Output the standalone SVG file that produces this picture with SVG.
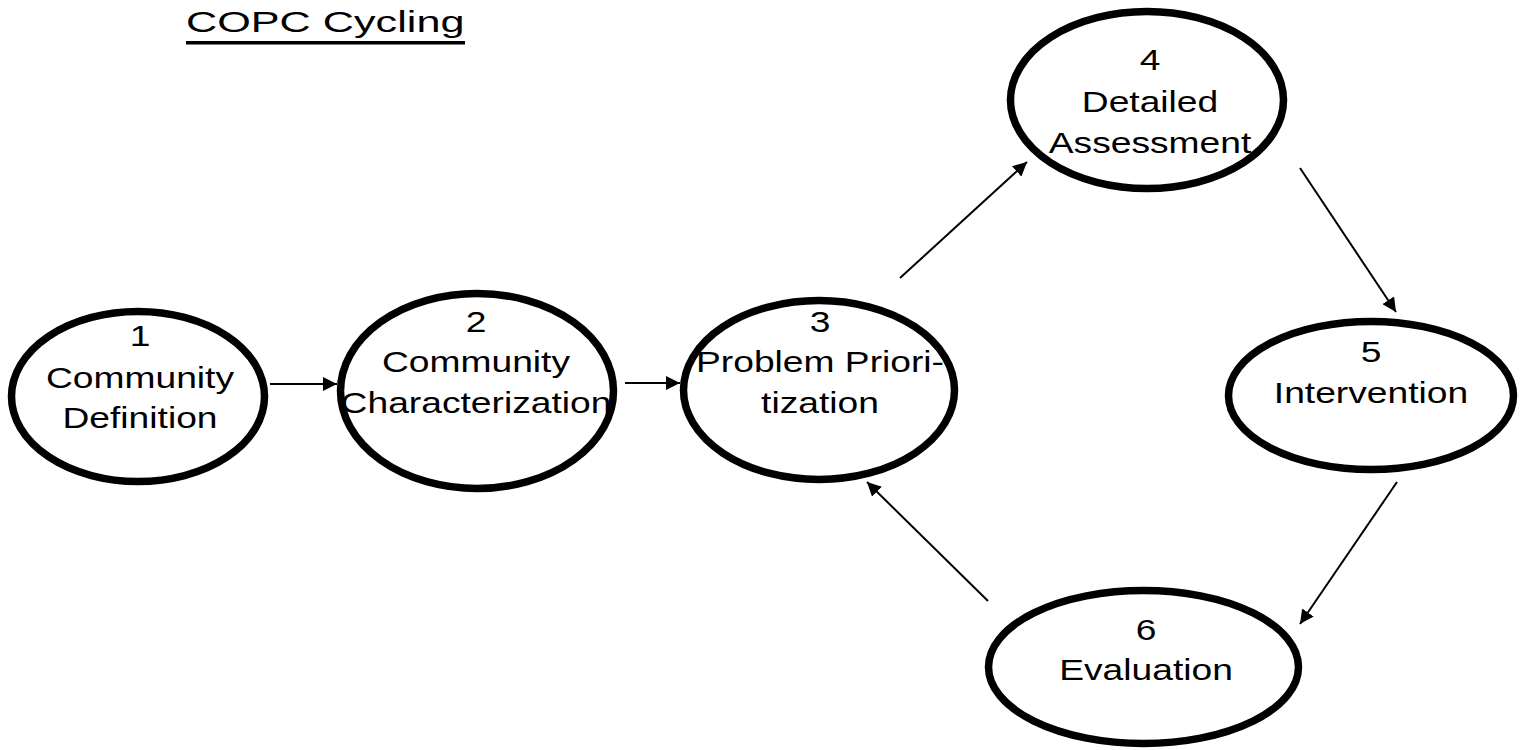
<svg xmlns="http://www.w3.org/2000/svg" width="1526" height="750" viewBox="0 0 1526 750">
  <style>
    .node { fill: #ffffff; stroke: #000000; stroke-width: 7.5; }
    .lbl { font-family: "Liberation Sans", Arial, sans-serif; font-size: 30px; fill: #000000; text-anchor: middle; }
    .title { font-family: "Liberation Sans", Arial, sans-serif; font-size: 30px; fill: #000000; }
    .edge { stroke: #000000; stroke-width: 2; fill: none; marker-end: url(#head); }
  </style>
  <defs>
    <marker id="head" viewBox="0 0 14 14" refX="14" refY="7" markerWidth="14" markerHeight="14" markerUnits="userSpaceOnUse" orient="auto">
      <path d="M0,0 L14,7 L0,14 Z" fill="#000000"/>
    </marker>
  </defs>

  <rect width="1526" height="750" fill="#ffffff"/>

  <!-- title -->
  <g id="title">
    <g transform="translate(186,0) scale(1.44,1)">
      <text class="title" x="0" y="32">COPC Cycling</text>
    </g>
    <rect x="186" y="41" width="279" height="3.5" fill="#000000"/>
  </g>

  <!-- connectors -->
  <g id="connectors">
    <line class="edge" x1="270" y1="384" x2="337" y2="384"/>
    <line class="edge" x1="625" y1="383" x2="680" y2="383"/>
    <line class="edge" x1="900" y1="278" x2="1027" y2="162"/>
    <line class="edge" x1="1300" y1="168" x2="1396" y2="312"/>
    <line class="edge" x1="1397" y1="482" x2="1300" y2="624"/>
    <line class="edge" x1="988" y1="601" x2="867" y2="482"/>
  </g>

  <!-- step 1 -->
  <g id="step1">
    <ellipse class="node" cx="138" cy="396.5" rx="126.5" ry="85"/>
    <g transform="translate(140,0) scale(1.24,1)">
      <text class="lbl" x="0" y="346">1</text>
      <text class="lbl" x="0" y="388">Community</text>
      <text class="lbl" x="0" y="428">Definition</text>
    </g>
  </g>

  <!-- step 2 -->
  <g id="step2">
    <ellipse class="node" cx="477" cy="391" rx="136.5" ry="97.5"/>
    <g transform="translate(476,0) scale(1.24,1)">
      <text class="lbl" x="0" y="332">2</text>
      <text class="lbl" x="0" y="372">Community</text>
      <text class="lbl" x="0" y="413">Characterization</text>
    </g>
  </g>

  <!-- step 3 -->
  <g id="step3">
    <ellipse class="node" cx="819" cy="390" rx="135.5" ry="89.5"/>
    <g transform="translate(820,0) scale(1.24,1)">
      <text class="lbl" x="0" y="332">3</text>
      <text class="lbl" x="0" y="372">Problem Priori-</text>
      <text class="lbl" x="0" y="413">tization</text>
    </g>
  </g>

  <!-- step 4 -->
  <g id="step4">
    <ellipse class="node" cx="1147" cy="100" rx="136.5" ry="88.5"/>
    <g transform="translate(1150,0) scale(1.24,1)">
      <text class="lbl" x="0" y="70">4</text>
      <text class="lbl" x="0" y="112">Detailed</text>
      <text class="lbl" x="0" y="153">Assessment</text>
    </g>
  </g>

  <!-- step 5 -->
  <g id="step5">
    <ellipse class="node" cx="1371" cy="395.5" rx="142.5" ry="74"/>
    <g transform="translate(1371,0) scale(1.24,1)">
      <text class="lbl" x="0" y="362">5</text>
      <text class="lbl" x="0" y="403">Intervention</text>
    </g>
  </g>

  <!-- step 6 -->
  <g id="step6">
    <ellipse class="node" cx="1143.5" cy="667" rx="155" ry="76.5"/>
    <g transform="translate(1146,0) scale(1.24,1)">
      <text class="lbl" x="0" y="640">6</text>
      <text class="lbl" x="0" y="680">Evaluation</text>
    </g>
  </g>
</svg>
